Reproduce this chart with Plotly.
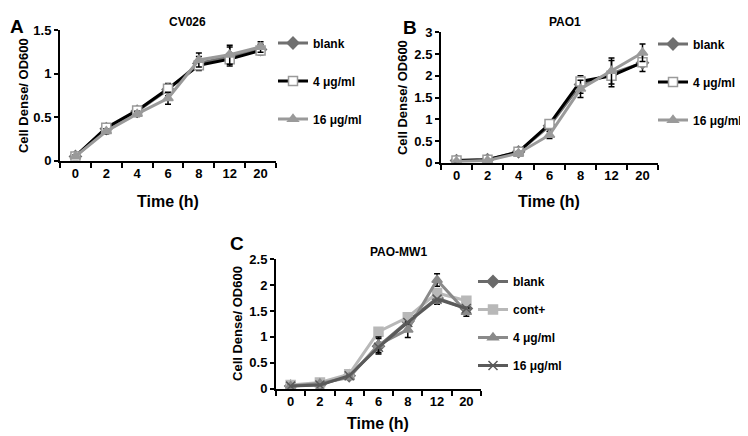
import plotly.graph_objects as go

W, H = 748, 436
time_labels = ["0", "2", "4", "6", "8", "12", "20"]

# Panel A: CV026
a_blank = [0.05, 0.37, 0.57, 0.82, 1.12, 1.20, 1.28]
a_4 = [0.05, 0.38, 0.58, 0.83, 1.10, 1.17, 1.27]
a_16 = [0.05, 0.34, 0.54, 0.72, 1.16, 1.22, 1.31]
a_err = [0.02, 0.03, 0.03, 0.07, 0.08, 0.11, 0.06]

# Panel B: PAO1
b_blank = [0.05, 0.07, 0.25, 0.85, 1.80, 2.05, 2.30]
b_4 = [0.05, 0.07, 0.25, 0.89, 1.87, 2.00, 2.31]
b_16 = [0.03, 0.05, 0.22, 0.64, 1.70, 2.11, 2.53]
b_err = [0.02, 0.02, 0.04, 0.08, 0.20, 0.30, 0.20]

# Panel C: PAO-MW1
c_blank = [0.05, 0.08, 0.25, 0.82, 1.30, 1.75, 1.55]
c_cont = [0.07, 0.12, 0.28, 1.10, 1.38, 1.85, 1.70]
c_4 = [0.05, 0.10, 0.22, 0.85, 1.14, 2.10, 1.48]
c_16 = [0.05, 0.07, 0.25, 0.80, 1.28, 1.73, 1.55]
c_err = [0.02, 0.02, 0.04, 0.15, 0.15, 0.12, 0.08]

FONT = "Liberation Sans, Arial, sans-serif"

fig = go.Figure()

def add(x_axis, y_axis, name, y, color, symbol, mcolor, mline, legend, err=None, size=9, width=3):
    fig.add_trace(go.Scatter(
        x=time_labels, y=y, name=name, mode="lines+markers",
        line=dict(color=color, width=width),
        marker=dict(symbol=symbol, size=size, color=mcolor, line=dict(color=mline, width=1.5)),
        error_y=dict(type="data", array=err, color="black", thickness=1.5, width=3, visible=err is not None),
        xaxis=x_axis, yaxis=y_axis, legend=legend, legendgroup=legend + name,
    ))

# A
add("x", "y", "blank", a_blank, "#707070", "diamond", "#707070", "#707070", "legend", a_err)
add("x", "y", "4 μg/ml", a_4, "#000000", "square", "#ffffff", "#9a9a9a", "legend", None)
add("x", "y", "16 μg/ml", a_16, "#9a9a9a", "triangle-up", "#9a9a9a", "#9a9a9a", "legend", a_err)
# B
add("x2", "y2", "blank", b_blank, "#707070", "diamond", "#707070", "#707070", "legend2", b_err)
add("x2", "y2", "4 μg/ml", b_4, "#000000", "square", "#ffffff", "#9a9a9a", "legend2", None)
add("x2", "y2", "16 μg/ml", b_16, "#9a9a9a", "triangle-up", "#9a9a9a", "#9a9a9a", "legend2", b_err)
# C
add("x3", "y3", "blank", c_blank, "#6a6a6a", "diamond", "#6a6a6a", "#6a6a6a", "legend3", c_err)
add("x3", "y3", "cont+", c_cont, "#b8b8b8", "square", "#b8b8b8", "#b8b8b8", "legend3", None)
add("x3", "y3", "4 μg/ml", c_4, "#8a8a8a", "triangle-up", "#8a8a8a", "#8a8a8a", "legend3", c_err)
add("x3", "y3", "16 μg/ml", c_16, "#5a5a5a", "x-thin", "#5a5a5a", "#5a5a5a", "legend3", None)

def px_x(p):
    return p / W

def px_y(p):
    return 1 - p / H

tickfont = dict(family=FONT, size=13, color="black", weight="bold")

def xax(x0, x1, anchor):
    return dict(type="category", domain=[px_x(x0), px_x(x1)], anchor=anchor,
                range=[-0.5, 6.5], showline=True, linecolor="black", linewidth=2,
                ticks="outside", tickson="boundaries", ticklen=5, tickwidth=2,
                tickcolor="black", tickfont=tickfont, showgrid=False, zeroline=False)

def yax(y0, y1, anchor, rng, dtick):
    return dict(domain=[px_y(y1), px_y(y0)], anchor=anchor, range=rng, dtick=dtick,
                showline=True, linecolor="black", linewidth=2, ticks="outside",
                ticklen=4, tickwidth=2, tickcolor="black", tickfont=tickfont,
                showgrid=False, zeroline=False)

legfont = dict(family=FONT, size=12, color="black", weight="bold")

def leg(x, y, gap):
    return dict(x=px_x(x), y=px_y(y), xanchor="left", yanchor="top",
                font=legfont, tracegroupgap=gap, bgcolor="rgba(0,0,0,0)", itemwidth=30)

fig.update_layout(
    width=W, height=H, margin=dict(l=0, r=0, t=0, b=0),
    paper_bgcolor="white", plot_bgcolor="white",
    font=dict(family=FONT, color="black"),
    xaxis=xax(52, 268, "y"), yaxis=yax(16, 151, "x", [0, 1.5], 0.5),
    xaxis2=xax(433, 650, "y2"), yaxis2=yax(18, 153, "x2", [0, 3], 0.5),
    xaxis3=xax(268, 473, "y3"), yaxis3=yax(253, 387, "x3", [0, 2.5], 0.5),
    legend=leg(265, 14, 19), legend2=leg(645, 15, 19), legend3=leg(465, 261, 9),
)

def ann(text, x, y, size, angle=0):
    fig.add_annotation(text=f"<b>{text}</b>", x=px_x(x), y=px_y(y), xref="paper", yref="paper",
                       showarrow=False, textangle=angle, xanchor="center", yanchor="middle",
                       font=dict(family=FONT, size=size, color="black"))

ann("A", 9, 12, 19)
ann("B", 402, 13, 19)
ann("C", 229, 237, 19)
ann("CV026", 179, 7, 12)
ann("PAO1", 557, 7, 12)
ann("PAO-MW1", 390, 245, 12)
ann("Time (h)", 160, 193, 16)
ann("Time (h)", 541, 193, 16)
ann("Time (h)", 370, 423, 16)
ann("Cell Dense/ OD600", 15, 84, 13, -90)
ann("Cell Dense/ OD600", 394, 86, 13, -90)
ann("Cell Dense/ OD600", 230, 320, 13, -90)

fig.write_html("out.html")
